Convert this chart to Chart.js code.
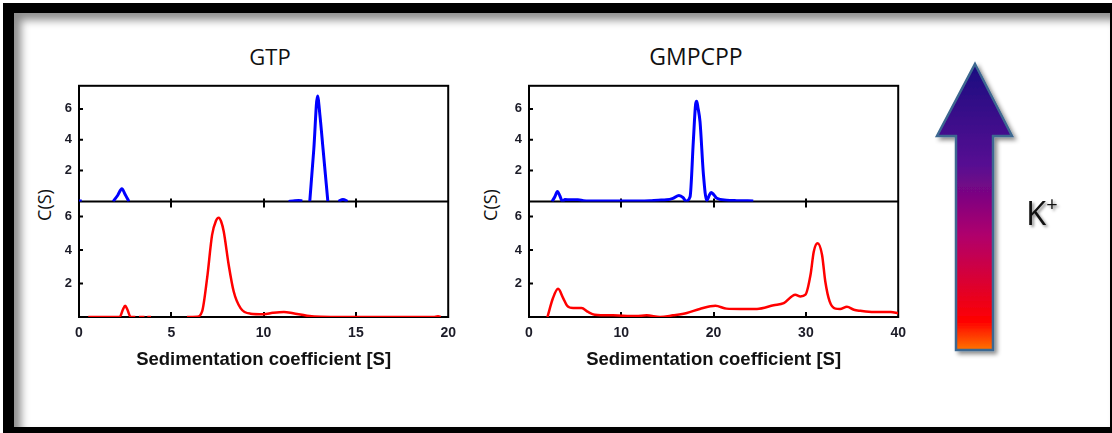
<!DOCTYPE html>
<html>
<head>
<meta charset="utf-8">
<script src="https://cdn.jsdelivr.net/npm/chart.js@4.4.0/dist/chart.umd.min.js"></script>
<style>
body{margin:0;width:1112px;height:433px;background:#fff;position:relative;overflow:hidden;font-family:"Liberation Sans",Arial,sans-serif}
#frame{position:absolute;left:3px;top:3px;width:1109px;height:430px;box-sizing:border-box;border-style:solid;border-color:#000;border-width:10px 2px 6px 11px;box-shadow:inset 7px 7px 8px rgba(0,0,0,0.45);background:#fff}
canvas{position:absolute}
.title{position:absolute;width:240px;text-align:center;font-family:"Open Sans",sans-serif;font-size:22px;color:#111;transform:translate(-50%,-50%)}
.ylab{position:absolute;font-family:"Open Sans",sans-serif;font-size:18px;color:#111;transform:translate(-50%,-50%) rotate(-90deg);white-space:nowrap}
#kplus{position:absolute;left:1026px;top:190px;font-family:"Open Sans",sans-serif;font-size:33px;color:#111;text-shadow:2px 2px 3px rgba(0,0,0,0.45)}
#kplus sup{font-size:20px;position:relative;top:-2px}
</style>
</head>
<body>
<div id="frame"></div>
<div class="title" style="left:270px;top:56px">GTP</div>
<div class="title" style="left:696px;top:56px;font-size:23px">GMPCPP</div>
<div class="ylab" style="left:44px;top:205px">C(S)</div>
<div class="ylab" style="left:490px;top:205px">C(S)</div>
<canvas id="left" width="444" height="307" style="left:20px;top:71px"></canvas>
<canvas id="right" width="444" height="307" style="left:470px;top:71px"></canvas>
<svg width="1112" height="433" style="position:absolute;left:0;top:0">
  <defs>
    <linearGradient id="kg" x1="0" y1="64" x2="0" y2="350" gradientUnits="userSpaceOnUse">
      <stop offset="0" stop-color="#1a0a80"/>
      <stop offset="0.35" stop-color="#560a92"/>
      <stop offset="0.6" stop-color="#b0006c"/>
      <stop offset="0.9" stop-color="#ff0000"/>
      <stop offset="1" stop-color="#ff7400"/>
    </linearGradient>
    <filter id="sh" x="-30%" y="-10%" width="160%" height="120%">
      <feDropShadow dx="3" dy="3" stdDeviation="2" flood-opacity="0.45"/>
    </filter>
  </defs>
  <polygon points="975,64 1012,136 993,136 993,350 956,350 956,136 937,136" fill="url(#kg)" stroke="#3d6891" stroke-width="2.5" filter="url(#sh)"/>
</svg>
<div id="kplus">K<sup>+</sup></div>

<script>
// GTP, top panel (blue) - null = gap in the trace
const gtpBlueS = [0.0, 0.15, 0.5, 1.85, 2.1, 2.32, 2.5, 2.7, 3.0, 11.35, 11.6, 11.9, 12.1, 12.3, 12.5, 12.72, 12.92, 13.05, 13.22, 13.48, 13.7, 14.05, 14.3, 14.55, 14.8];
const gtpBlueC = [0.03, 0.03, null, 0, 0.4, 0.82, 0.45, 0, null, 0, 0.03, 0.06, 0.03, null, 0, 3.4, 6.84, 5.6, 3.4, 0, null, 0, 0.12, 0, null];

// GTP, bottom panel (red)
const gtpRedS = [0.5, 2.2, 2.38, 2.5, 2.62, 2.8, 3.05, 3.1, 3.25, 3.55, 3.6, 3.7, 3.9, 4.0, 5.85, 6.4, 6.67, 6.94, 7.21, 7.42, 7.57, 7.7, 7.84, 8.11, 8.38, 8.75, 9.29, 10.0, 10.5, 11.1, 11.6, 12.35, 13.1, 16.0, 19.2, 19.45, 19.6];
const gtpRedC = [0, 0, 0.45, 0.67, 0.45, 0, 0, null, 0, 0, null, 0, 0, null, 0, 0.02, 0.33, 2.32, 4.9, 5.75, 5.93, 5.7, 5.1, 3.1, 1.52, 0.53, 0.2, 0.17, 0.25, 0.3, 0.22, 0.08, 0.02, 0, 0, 0.05, 0];

// GMPCPP, top panel (blue)
const gmpBlueS = [2.5, 2.8, 3.08, 3.35, 3.62, 3.9, 4.5, 5.3, 5.9, 6.5, 9, 12, 13.1, 14, 14.9, 15.6, 16.25, 16.7, 17.0, 17.45, 17.8, 18.05, 18.17, 18.3, 18.53, 18.9, 19.26, 19.5, 19.73, 20.0, 20.35, 21.4, 22.5, 24.3];
const gmpBlueC = [0, 0.3, 0.65, 0.35, 0, 0.12, 0.1, 0.1, 0.05, 0.03, 0.02, 0.02, 0.04, 0.08, 0.1, 0.2, 0.39, 0.25, 0.02, 0.3, 3.87, 6.3, 6.5, 6.1, 5.16, 1.72, 0.05, 0.35, 0.58, 0.45, 0.2, 0.08, 0.05, 0.03];

// GMPCPP, bottom panel (red)
const gmpRedS = [2.0, 2.6, 3.15, 3.7, 4.13, 4.78, 5.69, 6.4, 7.13, 9.1, 11.6, 12.75, 14.2, 15.6, 17.1, 18.5, 20.2, 21.4, 22.9, 24.7, 26.5, 27.6, 28.85, 29.4, 29.95, 30.5, 30.85, 31.27, 31.75, 32.1, 32.57, 33.2, 33.7, 34.45, 35.2, 35.9, 37.35, 39.2, 40];
const gmpRedC = [0, 1.13, 1.68, 1.13, 0.67, 0.53, 0.53, 0.3, 0.14, 0.1, 0.06, 0.1, 0.0, 0.1, 0.24, 0.48, 0.67, 0.5, 0.48, 0.48, 0.7, 0.83, 1.33, 1.23, 1.33, 2.52, 3.9, 4.4, 3.7, 2.12, 0.93, 0.5, 0.48, 0.61, 0.43, 0.37, 0.3, 0.3, 0.22];

// tick labels
const yTicks = [2, 4, 6];
const gtpXTicks = [0, 5, 10, 15, 20];
const gmpXTicks = [0, 10, 20, 30, 40];
const xTitle = 'Sedimentation coefficient [S]';

const fontFam = '"Liberation Sans", Arial, sans-serif';
const labelColor = '#1c1c28';

function pts(s, c) {
  return s.map((v, i) => ({x: v, y: c[i]}));
}

// frame round the two stacked panels + inward ticks
const boxPlugin = {
  id: 'box',
  beforeDatasetsDraw(chart) {
    const {ctx, chartArea: a, scales} = chart;
    const mid = scales.yTop.bottom;
    ctx.save();
    ctx.strokeStyle = '#000';
    ctx.lineWidth = 2;
    ctx.strokeRect(a.left, a.top, a.right - a.left, a.bottom - a.top);
    ctx.beginPath();
    ctx.moveTo(a.left, mid);
    ctx.lineTo(a.right, mid);
    ctx.stroke();
    ctx.beginPath();
    for (const id of ['yTop', 'yBot']) {
      const sc = scales[id];
      for (const v of yTicks) {
        const p = sc.getPixelForValue(v);
        ctx.moveTo(a.left, p);
        ctx.lineTo(a.left + 4, p);
      }
    }
    const xs = scales.x;
    for (const t of xs.ticks) {
      if (t.value <= xs.min || t.value >= xs.max) continue;
      const p = Math.round(xs.getPixelForValue(t.value));
      ctx.moveTo(p, a.bottom);
      ctx.lineTo(p, a.bottom - 5);
      ctx.moveTo(p, mid - 3);
      ctx.lineTo(p, mid + 6);
    }
    ctx.stroke();
    ctx.restore();
  }
};

function yAxis(max, weight) {
  return {
    type: 'linear', position: 'left', stack: 'cs', stackWeight: 1, weight: weight,
    min: 0, max: max,
    grid: {display: false, drawTicks: false},
    border: {display: false},
    ticks: {padding: 7, font: {family: fontFam, weight: 'bold', size: 13}, color: labelColor},
    afterBuildTicks: s => { s.ticks = yTicks.map(v => ({value: v})); },
    afterFit: s => { s.width = 59; }
  };
}

function makeChart(id, blueS, blueC, redS, redC, xMax, xTicks) {
  new Chart(document.getElementById(id), {
    type: 'line',
    data: {
      datasets: [
        {data: pts(blueS, blueC), yAxisID: 'yTop', borderColor: '#0000ff', borderWidth: 3,
         pointRadius: 0, cubicInterpolationMode: 'monotone', spanGaps: false, fill: false},
        {data: pts(redS, redC), yAxisID: 'yBot', borderColor: '#ff0000', borderWidth: 2.5,
         pointRadius: 0, cubicInterpolationMode: 'monotone', spanGaps: false, fill: false}
      ]
    },
    options: {
      responsive: false,
      animation: false,
      devicePixelRatio: 1,
      layout: {padding: {top: 0, right: 9, left: 0, bottom: 0}},
      plugins: {legend: {display: false}, tooltip: {enabled: false}},
      scales: {
        x: {
          type: 'linear', position: 'bottom', min: 0, max: xMax,
          grid: {display: false, drawTicks: false},
          border: {display: false},
          ticks: {padding: 8, font: {family: fontFam, weight: 'bold', size: 14}, color: labelColor},
          afterBuildTicks: s => { s.ticks = xTicks.map(v => ({value: v})); },
          title: {display: true, text: xTitle, color: '#111', padding: {top: 0, bottom: 7},
                  font: {family: fontFam, weight: 'bold', size: 18.5}},
          afterFit: s => { s.height = 61; }
        },
        yBot: yAxis(6.9, 1),
        yTop: yAxis(7.5, 2)
      }
    },
    plugins: [boxPlugin]
  });
}

makeChart('left', gtpBlueS, gtpBlueC, gtpRedS, gtpRedC, 20, gtpXTicks);
makeChart('right', gmpBlueS, gmpBlueC, gmpRedS, gmpRedC, 40, gmpXTicks);
</script>
</body>
</html>
